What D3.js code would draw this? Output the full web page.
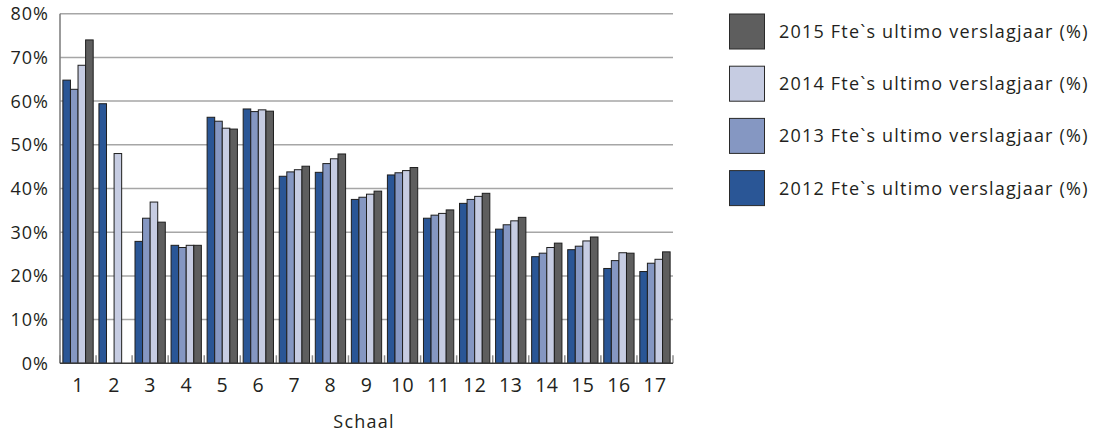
<!DOCTYPE html>
<html>
<head>
<meta charset="utf-8">
<script src="https://cdn.jsdelivr.net/npm/d3@7"></script>
<style>
  body { margin: 0; background: #fff; }
  svg text { font-family: "Open Sans", Lato, sans-serif; fill: #231f20; }
</style>
</head>
<body>
<svg id="chart"></svg>
<script>
var width = 1106;
var height = 432;

// schaal 1..17
const categories = ["1","2","3","4","5","6","7","8","9","10","11","12","13","14","15","16","17"];
const seriesNames = ["2012", "2013", "2014", "2015"];
const legendLabels = ["2015 Fte`s ultimo verslagjaar (%)", "2014 Fte`s ultimo verslagjaar (%)",
                      "2013 Fte`s ultimo verslagjaar (%)", "2012 Fte`s ultimo verslagjaar (%)"];
const v2012 = [64.8, 59.4, 27.9, 27.0, 56.3, 58.2, 42.8, 43.7, 37.5, 43.1, 33.2, 36.6, 30.7, 24.4, 26.0, 21.7, 21.0];
const v2013 = [62.7, 0, 33.2, 26.5, 55.4, 57.6, 43.8, 45.7, 38.0, 43.6, 33.9, 37.5, 31.7, 25.2, 26.8, 23.5, 22.9];
const v2014 = [68.2, 48.0, 36.9, 27.0, 53.8, 58.0, 44.3, 46.8, 38.7, 44.1, 34.3, 38.2, 32.6, 26.5, 28.0, 25.3, 23.8];
const v2015 = [74.0, 0, 32.3, 27.0, 53.6, 57.7, 45.1, 47.9, 39.4, 44.8, 35.1, 38.9, 33.4, 27.5, 28.9, 25.2, 25.5];
const yTicks = [0, 10, 20, 30, 40, 50, 60, 70, 80];

const colors = ["#2a5696", "#8597c2", "#c6cce2", "#5e5e5e"];

const values = [v2012, v2013, v2014, v2015];
const data = categories.map((c, i) => ({
  cat: c,
  vals: seriesNames.map((s, j) => ({ series: s, idx: j, value: values[j][i] }))
}));

const margin = { left: 60, top: 13.7, right: 1106 - 673, bottom: 432 - 363.3 };

const svg = d3.select("#chart")
  .attr("width", width)
  .attr("height", height);

const x = d3.scaleBand()
  .domain(categories)
  .range([margin.left, width - margin.right])
  .paddingInner(0)
  .paddingOuter(0);

const x1 = d3.scaleBand()
  .domain(seriesNames)
  .range([0, x.bandwidth()])
  .paddingOuter(0.38)
  .paddingInner(0);

const y = d3.scaleLinear()
  .domain([0, 80])
  .range([height - margin.bottom, margin.top]);

// gridlines
svg.append("g")
  .selectAll("line")
  .data(yTicks.filter(d => d > 0))
  .enter()
  .append("line")
  .attr("x1", margin.left)
  .attr("x2", width - margin.right)
  .attr("y1", d => y(d))
  .attr("y2", d => y(d))
  .attr("stroke", "#a6a6a6")
  .attr("stroke-width", 1.5);

// y labels
svg.append("g")
  .selectAll("text")
  .data(yTicks)
  .enter()
  .append("text")
  .attr("x", 49)
  .attr("y", d => y(d))
  .attr("dy", "0.36em")
  .attr("text-anchor", "end")
  .style("font-size", "18px")
  .style("letter-spacing", "1px")
  .text(d => d + "%");

// bars
const groups = svg.append("g")
  .selectAll("g")
  .data(data)
  .enter()
  .append("g")
  .attr("transform", d => `translate(${x(d.cat)},0)`);

groups.selectAll("rect")
  .data(d => d.vals.filter(v => v.value > 0))
  .enter()
  .append("rect")
  .attr("x", d => x1(d.series))
  .attr("y", d => y(d.value))
  .attr("width", x1.bandwidth())
  .attr("height", d => y(0) - y(d.value))
  .attr("fill", d => colors[d.idx])
  .attr("stroke", "#1e1e1e")
  .attr("stroke-width", 1);

// category separators (small ticks inside the plot)
const bounds = categories.map(c => x(c)).concat([x.range()[1]]);
svg.append("g")
  .selectAll("line")
  .data(bounds)
  .enter()
  .append("line")
  .attr("x1", d => d)
  .attr("x2", d => d)
  .attr("y1", y(0) - 8)
  .attr("y2", y(0))
  .attr("stroke", "#8c8c8c")
  .attr("stroke-width", 1.5);

// axes lines
svg.append("line")
  .attr("x1", margin.left).attr("x2", margin.left)
  .attr("y1", margin.top).attr("y2", y(0))
  .attr("stroke", "#7a7a7a").attr("stroke-width", 1.5);
svg.append("line")
  .attr("x1", margin.left).attr("x2", width - margin.right)
  .attr("y1", y(0)).attr("y2", y(0))
  .attr("stroke", "#3a3a3a").attr("stroke-width", 1.5);

// x labels
svg.append("g")
  .selectAll("text")
  .data(categories)
  .enter()
  .append("text")
  .attr("x", d => x(d) + x.bandwidth() / 2)
  .attr("y", 392)
  .attr("text-anchor", "middle")
  .style("font-size", "19.5px")
  .style("letter-spacing", "0.5px")
  .text(d => d);

svg.append("text")
  .attr("x", 364)
  .attr("y", 428)
  .attr("text-anchor", "middle")
  .style("font-size", "18px")
  .style("letter-spacing", "1.2px")
  .text("Schaal");

// legend
const legendColors = [colors[3], colors[2], colors[1], colors[0]];
const legend = svg.append("g")
  .selectAll("g")
  .data(legendLabels)
  .enter()
  .append("g")
  .attr("transform", (d, i) => `translate(729.5,${14 + i * 52.2})`);

legend.append("rect")
  .attr("width", 35)
  .attr("height", 35)
  .attr("fill", (d, i) => legendColors[i])
  .attr("stroke", "#2a2a2a")
  .attr("stroke-width", 1);

legend.append("text")
  .attr("x", 49.5)
  .attr("y", 17.5)
  .attr("dy", "0.36em")
  .style("font-size", "18px")
  .style("letter-spacing", "1.2px")
  .text(d => d);
</script>
</body>
</html>
